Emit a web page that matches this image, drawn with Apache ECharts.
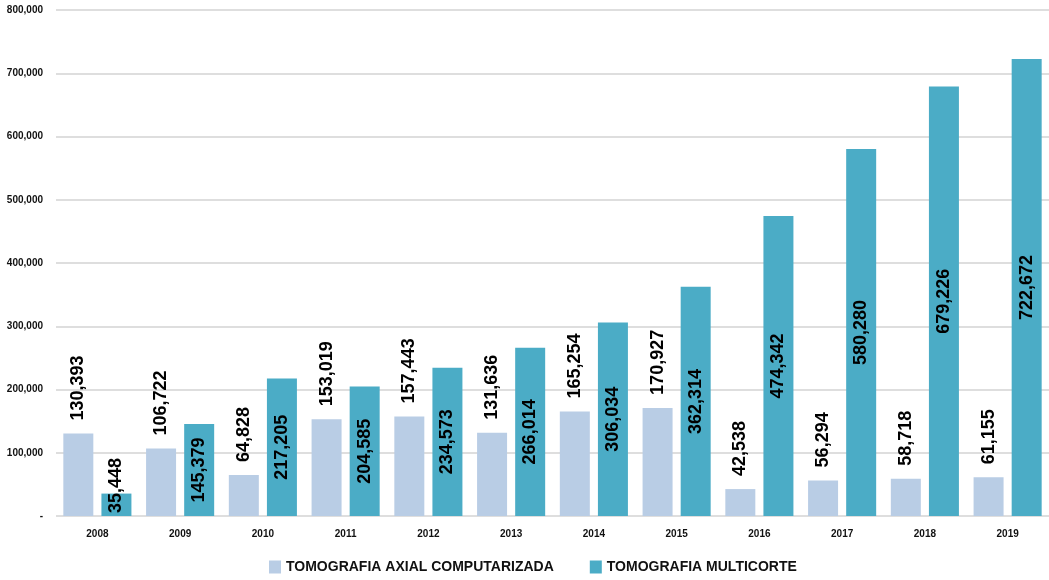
<!DOCTYPE html>
<html>
<head>
<meta charset="utf-8">
<script src="https://cdn.jsdelivr.net/npm/echarts@6/dist/echarts.min.js"></script>
<style>
  html, body { margin: 0; padding: 0; background: #fff; }
  #main { width: 1049px; height: 580px; }
</style>
</head>
<body>
<div id="main"></div>
<script>
// años
var years = ['2008', '2009', '2010', '2011', '2012', '2013', '2014', '2015', '2016', '2017', '2018', '2019'];
// tomografia axial computarizada
var axial = [130393, 106722, 64828, 153019, 157443, 131636, 165254, 170927, 42538, 56294, 58718, 61155];
// tomografia multicorte
var multicorte = [35448, 145379, 217205, 204585, 234573, 266014, 306034, 362314, 474342, 580280, 679226, 722672];
var yTicks = [0, 100000, 200000, 300000, 400000, 500000, 600000, 700000, 800000];

function fmt(v) {
    return String(v).replace(/\B(?=(\d{3})+(?!\d))/g, ',');
}

var labelFont = "'Liberation Sans', Arial, sans-serif";
var chart = echarts.init(document.getElementById('main'));

// la barra baja de 2008 lleva la etiqueta pegada a la base
var multiData = multicorte.map(function (v) {
    if (v < 60000) {
        return { value: v, label: { position: 'insideBottom', align: 'left', verticalAlign: 'middle', distance: 3 } };
    }
    return v;
});

chart.setOption({
    animation: false,
    grid: { left: 56, right: 0, top: 10, bottom: 64 },
    legend: {
        bottom: 1,
        left: 264,
        itemWidth: 12,
        itemHeight: 13,
        itemGap: 36,
        icon: 'rect',
        textStyle: { fontFamily: labelFont, fontWeight: 'bold', fontSize: 14, color: '#111' },
        data: ['TOMOGRAFIA AXIAL COMPUTARIZADA', 'TOMOGRAFIA MULTICORTE']
    },
    xAxis: {
        type: 'category',
        data: years,
        axisLine: { show: false },
        axisTick: { show: false },
        axisLabel: { margin: 13, fontFamily: labelFont, fontWeight: 'bold', fontSize: 10, color: '#111' }
    },
    yAxis: {
        type: 'value',
        min: yTicks[0],
        max: yTicks[yTicks.length - 1],
        interval: 100000,
        axisLine: { show: false },
        axisTick: { show: false },
        splitLine: { lineStyle: { color: '#dedede', width: 2 } },
        axisLabel: {
            margin: 13,
            fontFamily: labelFont, fontWeight: 'bold', fontSize: 10, color: '#111',
            formatter: function (v) { return v === 0 ? '-' : fmt(v); }
        }
    },
    series: [
        {
            name: 'TOMOGRAFIA AXIAL COMPUTARIZADA',
            type: 'bar',
            data: axial,
            barWidth: 30,
            barGap: '27%',
            itemStyle: { color: '#b9cde5' },
            label: {
                show: true,
                position: 'top',
                distance: 13,
                rotate: 90,
                align: 'left',
                verticalAlign: 'middle',
                fontFamily: labelFont,
                fontWeight: 'bold',
                fontSize: 18,
                color: '#000',
                formatter: function (p) { return fmt(p.value); }
            }
        },
        {
            name: 'TOMOGRAFIA MULTICORTE',
            type: 'bar',
            data: multiData,
            barWidth: 30,
            itemStyle: { color: '#4bacc6' },
            label: {
                show: true,
                position: 'inside',
                rotate: 90,
                fontFamily: labelFont,
                fontWeight: 'bold',
                fontSize: 18,
                color: '#000',
                formatter: function (p) { return fmt(p.value); }
            }
        }
    ]
});
</script>
</body>
</html>
